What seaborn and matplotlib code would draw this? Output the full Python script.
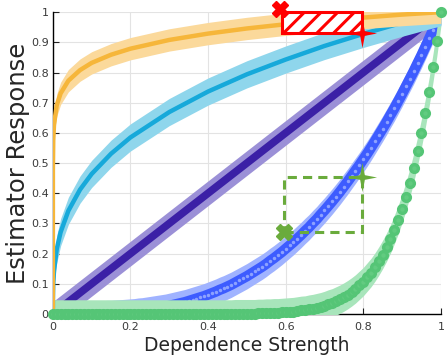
import numpy as np
import pandas as pd
import seaborn as sns
from matplotlib import pyplot as plt
from matplotlib.path import Path
from matplotlib.patches import Rectangle

# dense grid for the curves that show markers
x_dense = np.linspace(0, 1, 101)

# coarse grids for the smooth curves
x_orange = [0, 0.0001, 0.001, 0.003, 0.01, 0.02, 0.04, 0.07, 0.1, 0.15, 0.2, 0.3, 0.4, 0.5, 0.6, 0.7, 0.8, 0.9, 1.0]
y_orange = [0, 0.479, 0.576, 0.628, 0.692, 0.731, 0.773, 0.808, 0.832, 0.859, 0.879, 0.908, 0.929, 0.946, 0.960, 0.972, 0.982, 0.992, 1.0]
y_cyan = [0, 0.046, 0.1, 0.144, 0.215, 0.271, 0.342, 0.412, 0.464, 0.531, 0.585, 0.669, 0.737, 0.794, 0.843, 0.888, 0.928, 0.965, 1.0]
x_purple = [0, 1]
y_purple = [0, 1]

y_blue = [0, 0, 0, 0, 0, 0, 0, 0, 0.001, 0.001, 0.001, 0.001, 0.002, 0.002, 0.003, 0.003, 0.004, 0.005,
          0.006, 0.007, 0.008, 0.009, 0.011, 0.012, 0.014, 0.016, 0.018, 0.020, 0.022, 0.024, 0.027,
          0.030, 0.033, 0.036, 0.039, 0.043, 0.047, 0.051, 0.055, 0.059, 0.064, 0.069, 0.074, 0.080,
          0.085, 0.091, 0.097, 0.104, 0.111, 0.118, 0.125, 0.133, 0.141, 0.149, 0.157, 0.166, 0.176,
          0.185, 0.195, 0.205, 0.216, 0.227, 0.238, 0.250, 0.262, 0.275, 0.287, 0.301, 0.314, 0.329,
          0.343, 0.358, 0.373, 0.389, 0.405, 0.422, 0.439, 0.457, 0.475, 0.493, 0.512, 0.531, 0.551,
          0.572, 0.593, 0.614, 0.636, 0.659, 0.681, 0.705, 0.729, 0.754, 0.779, 0.804, 0.831, 0.857,
          0.885, 0.913, 0.941, 0.970, 1.0]
y_green = [0] * 47 + [0.001, 0.001, 0.001, 0.001, 0.001, 0.001, 0.002, 0.002, 0.003, 0.003, 0.004,
                      0.004, 0.005, 0.006, 0.007, 0.008, 0.01, 0.012, 0.013, 0.016, 0.018, 0.021, 0.024,
                      0.028, 0.033, 0.037, 0.043, 0.049, 0.056, 0.064, 0.073, 0.083, 0.095, 0.107, 0.122,
                      0.137, 0.155, 0.175, 0.197, 0.221, 0.248, 0.279, 0.312, 0.349, 0.389, 0.434, 0.484,
                      0.539, 0.599, 0.665, 0.737, 0.817, 0.904, 1.0]

# highlighted boxes (x0, y0, x1, y1)
red_box = (0.59, 0.932, 0.797, 1.0)
green_box = (0.595, 0.27, 0.797, 0.455)

sns.set_style("whitegrid", {"grid.color": "#e3e3e3", "axes.edgecolor": "black"})
plt.rcParams['font.family'] = ['DejaVu Sans']
plt.rcParams['hatch.linewidth'] = 2.2

fig = plt.figure(figsize=(4.48, 3.58), dpi=100)
ax = fig.add_axes([0.118, 0.123, 0.866, 0.843])

def band(x, y, d, color, z):
    y = np.asarray(y)
    ax.fill_between(x, y - d, y + d, color=color, lw=0, zorder=z)

# purple
band(x_purple, y_purple, 0.041, '#9b90d7', 3)
sns.lineplot(x=x_purple, y=y_purple, ax=ax, color='#3b20a6', lw=5.5, zorder=3.1)

# blue
band(x_dense, y_blue, 0.042, '#a0b3ff', 4)
sns.lineplot(x=x_dense, y=y_blue, ax=ax, color='#3d5cff', lw=7.5, zorder=4.1,
             marker='o', ms=2.5, mfc='#8da2ff', mec='none')

# green band
band(x_dense, y_green, 0.047, '#a8e5bb', 5)

# cyan
band(x_orange, y_cyan, 0.045, '#8fd6ec', 6)
sns.lineplot(x=x_orange, y=y_cyan, ax=ax, color='#16a9da', lw=3.2, zorder=6.1)

# orange
band(x_orange, y_orange, 0.037, '#fbd99b', 7)
sns.lineplot(x=x_orange, y=y_orange, ax=ax, color='#f6b63a', lw=3.2, zorder=7.1)

# green markers
sns.lineplot(x=x_dense, y=y_green, ax=ax, color='#a8e5bb', lw=0, zorder=8,
             marker='o', ms=5.6, mfc='#62cb80', mec='#55c576', mew=2.4)
ax.lines[-1].set_clip_on(False)

# boxes with corner markers
star = Path([(0, 1), (0.16, 0.16), (1, 0), (0.16, -0.16), (0, -1), (-0.16, -0.16), (-1, 0), (-0.16, 0.16), (0, 1)],
            [Path.MOVETO] + [Path.LINETO] * 7 + [Path.CLOSEPOLY])

x0, y0, x1, y1 = red_box
ax.add_patch(Rectangle((x0, y0), x1 - x0, y1 - y0, facecolor='white', edgecolor='#ff0000',
                       hatch='//', lw=2.2, zorder=9, clip_on=False))
ax.plot([x0 - 0.004], [y1 + 0.012], marker='X', ms=11, color='#ff0000', mec='#ff0000', zorder=10, clip_on=False)
ax.plot([x1], [y0], marker=star, ms=21, color='#ff0000', mec='none', zorder=10, clip_on=False)

x0, y0, x1, y1 = green_box
ax.add_patch(Rectangle((x0, y0), x1 - x0, y1 - y0, fill=False, edgecolor='#6aab3c',
                       lw=2.2, ls=(0, (3, 2)), zorder=9))
ax.plot([x0], [y0], marker='X', ms=11, color='#6aab3c', mec='#6aab3c', zorder=10)
ax.plot([x1], [y1], marker=star, ms=21, color='#6aab3c', mec='none', zorder=10, clip_on=False)

ax.set_xlim(0, 1)
ax.set_ylim(0, 1)
ax.set_xticks([0, 0.2, 0.4, 0.6, 0.8, 1])
ax.set_xticklabels(['0', '0.2', '0.4', '0.6', '0.8', '1'])
ax.set_yticks(np.arange(11) / 10)
ax.set_yticklabels(['0', '0.1', '0.2', '0.3', '0.4', '0.5', '0.6', '0.7', '0.8', '0.9', '1'])
ax.tick_params(axis='both', labelsize=8, labelcolor='#3a3a3a', direction='in', length=4, width=0.8, color='#222222')
ax.tick_params(axis='y', left=True, pad=3)
ax.tick_params(axis='x', bottom=True, pad=6)

for side in ['top', 'right']:
    ax.spines[side].set_visible(False)
for side in ['left', 'bottom']:
    ax.spines[side].set_linewidth(1.0)
    ax.spines[side].set_zorder(1.5)

ax.set_xlabel('Dependence Strength', fontsize=13.5, color='#262626', labelpad=3)
ax.set_ylabel('Estimator Response', fontsize=17.5, color='#262626', labelpad=1)

fig.savefig('out.png', dpi=100)
